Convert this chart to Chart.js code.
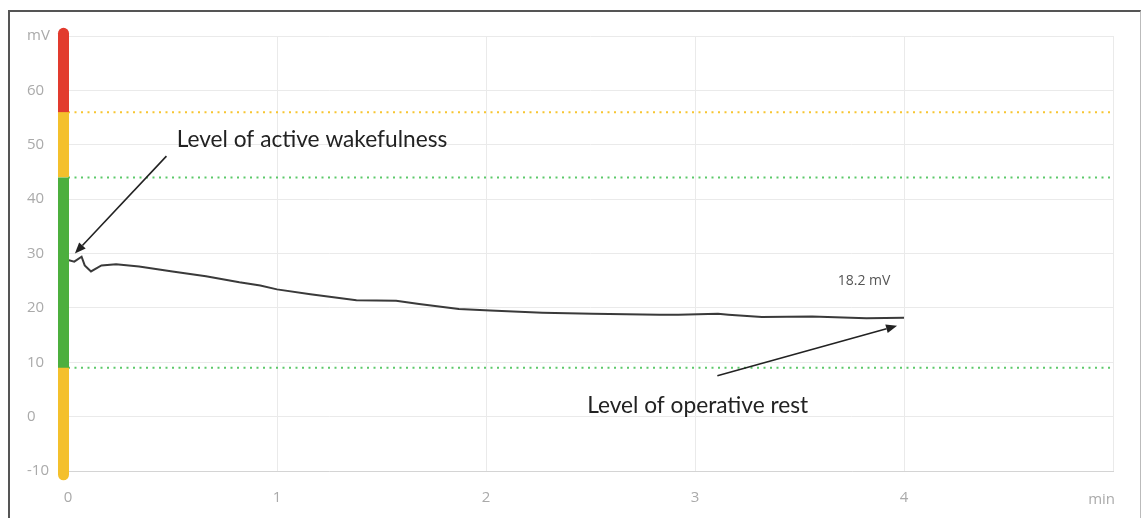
<!DOCTYPE html>
<html>
<head>
<meta charset="utf-8">
<script src="https://cdn.jsdelivr.net/npm/chart.js@4.4.1/dist/chart.umd.min.js"></script>
<style>
  html, body { margin: 0; padding: 0; background: #fff; overflow: hidden; }
  #frame { position: absolute; left: 8px; top: 10px; width: 1130px; height: 560px;
           border-top: 2px solid #555; border-left: 2px solid #555; border-right: 1px solid #bbb; }
  #wrap { position: absolute; left: 0; top: 0; width: 1141px; height: 518px; }
</style>
</head>
<body>
<div id="frame"></div>
<div id="wrap"><canvas id="chart"></canvas></div>
<script>

/* values ---------------------------------------------------------- */

var minutes = [0, 0.03, 0.065, 0.08, 0.11, 0.16, 0.23, 0.34, 0.5, 0.66, 0.82, 0.92, 1.0,
               1.16, 1.38, 1.57, 1.68, 1.87, 2.02, 2.27, 2.51, 2.83, 2.92, 3.11, 3.16,
               3.32, 3.56, 3.82, 4.0];
var millivolts = [28.8, 28.5, 29.4, 27.8, 26.7, 27.8, 28.0, 27.6, 26.7, 25.8, 24.7, 24.1, 23.4,
                  22.5, 21.4, 21.3, 20.7, 19.8, 19.5, 19.1, 18.9, 18.75, 18.75, 18.9, 18.75,
                  18.3, 18.4, 18.1, 18.2];

var yTicks = [-10, 0, 10, 20, 30, 40, 50, 60, 70];
var xTicks = [0, 1, 2, 3, 4, 5];

var zoneLimits = [70.5, 56, 44, 9, -10.7];
var zoneColors = ["#e23b2e", "#f4c02c", "#4caf3e", "#f4c02c"];

var dottedLevels = [56, 44, 9];
var dottedColors = ["#f7c531", "#5cc96a", "#5cc96a"];

var lastLabel = "18.2 mV";

/* annotations, in data units -------------------------------------- */

var notes = [
  { text: "Level of active wakefulness", x: 0.52, y: 51, from: [0.471, 47.9], to: [0.033, 30.0] },
  { text: "Level of operative rest", x: 2.484, y: 2.0, from: [3.107, 7.5], to: [3.967, 16.7] }
];

/* ----------------------------------------------------------------- */

var lineData = minutes.map(function (t, i) { return { x: t, y: millivolts[i] }; });

var datasets = dottedLevels.map(function (lv, i) {
  return {
    data: [{ x: xTicks[0], y: lv }, { x: xTicks[xTicks.length - 1], y: lv }],
    borderColor: dottedColors[i],
    borderWidth: 2,
    borderDash: [2, 4.5],
    pointRadius: 0
  };
});
datasets.push({
  data: lineData,
  borderColor: "#3a3a3a",
  borderWidth: 2,
  pointRadius: 0,
  tension: 0
});

var zoneBar = {
  id: "zoneBar",
  afterDatasetsDraw: function (chart) {
    var ctx = chart.ctx, y = chart.scales.y, x0 = chart.chartArea.left - 4.5;
    ctx.save();
    ctx.lineWidth = 11;
    var order = [0, 3, 1, 2];
    order.forEach(function (i) {
      ctx.beginPath();
      ctx.strokeStyle = zoneColors[i];
      ctx.lineCap = (i === 0 || i === 3) ? "round" : "butt";
      ctx.moveTo(x0, y.getPixelForValue(zoneLimits[i]));
      ctx.lineTo(x0, y.getPixelForValue(zoneLimits[i + 1]));
      ctx.stroke();
    });
    ctx.restore();
  }
};

var notesPlugin = {
  id: "notes",
  afterDraw: function (chart) {
    var ctx = chart.ctx, sx = chart.scales.x, sy = chart.scales.y;
    ctx.save();
    notes.forEach(function (n) {
      ctx.font = "22.7px Lato";
      ctx.fillStyle = "#222";
      ctx.textAlign = "left";
      ctx.textBaseline = "middle";
      ctx.fillText(n.text, sx.getPixelForValue(n.x), sy.getPixelForValue(n.y));

      var x1 = sx.getPixelForValue(n.from[0]), y1 = sy.getPixelForValue(n.from[1]);
      var x2 = sx.getPixelForValue(n.to[0]), y2 = sy.getPixelForValue(n.to[1]);
      var a = Math.atan2(y2 - y1, x2 - x1), len = 11, w = 4.5;
      ctx.strokeStyle = "#222";
      ctx.fillStyle = "#222";
      ctx.lineWidth = 1.6;
      ctx.beginPath();
      ctx.moveTo(x1, y1);
      ctx.lineTo(x2 - Math.cos(a) * len, y2 - Math.sin(a) * len);
      ctx.stroke();
      ctx.beginPath();
      ctx.moveTo(x2, y2);
      ctx.lineTo(x2 - Math.cos(a) * len - Math.sin(a) * w, y2 - Math.sin(a) * len + Math.cos(a) * w);
      ctx.lineTo(x2 - Math.cos(a) * len + Math.sin(a) * w, y2 - Math.sin(a) * len - Math.cos(a) * w);
      ctx.closePath();
      ctx.fill();
    });

    // value at the end of the curve
    var last = lineData[lineData.length - 1];
    ctx.font = "14px 'Open Sans'";
    ctx.fillStyle = "#555";
    ctx.textAlign = "right";
    ctx.textBaseline = "middle";
    ctx.fillText(lastLabel, sx.getPixelForValue(last.x - 0.065), sy.getPixelForValue(last.y + 6.7));

    // unit of the time axis
    ctx.font = "15px 'Open Sans'";
    ctx.fillStyle = "#aaa";
    ctx.textAlign = "right";
    ctx.textBaseline = "middle";
    ctx.fillText("min", sx.getPixelForValue(xTicks[xTicks.length - 1]) + 2, chart.chartArea.bottom + 29);
    ctx.restore();
  }
};

new Chart(document.getElementById("chart"), {
  type: "line",
  data: { datasets: datasets },
  plugins: [zoneBar, notesPlugin],
  options: {
    responsive: true,
    maintainAspectRatio: false,
    animation: false,
    layout: { padding: { left: 27, right: 28, top: 36, bottom: 0 } },
    plugins: { legend: { display: false }, tooltip: { enabled: false } },
    scales: {
      x: {
        type: "linear",
        min: xTicks[0],
        max: xTicks[xTicks.length - 1],
        afterBuildTicks: function (s) { s.ticks = xTicks.map(function (v) { return { value: v }; }); },
        afterFit: function (s) { s.height = 47; },
        ticks: {
          padding: 18,
          color: "#aaa",
          font: { family: "'Open Sans'", size: 15 },
          maxRotation: 0,
          callback: function (v) { return v === xTicks[xTicks.length - 1] ? "" : v; }
        },
        grid: { color: "#eaeaea", drawTicks: false },
        border: { color: "#d4d4d4" }
      },
      y: {
        min: yTicks[0],
        max: yTicks[yTicks.length - 1],
        afterBuildTicks: function (s) { s.ticks = yTicks.map(function (v) { return { value: v }; }); },
        afterFit: function (s) { s.width = 41; },
        ticks: {
          crossAlign: "far",
          color: "#aaa",
          font: { family: "'Open Sans'", size: 15 },
          callback: function (v) { return v === yTicks[yTicks.length - 1] ? "mV" : v; }
        },
        grid: { color: "#eaeaea", drawTicks: false },
        border: { display: false }
      }
    }
  }
});
</script>
</body>
</html>
